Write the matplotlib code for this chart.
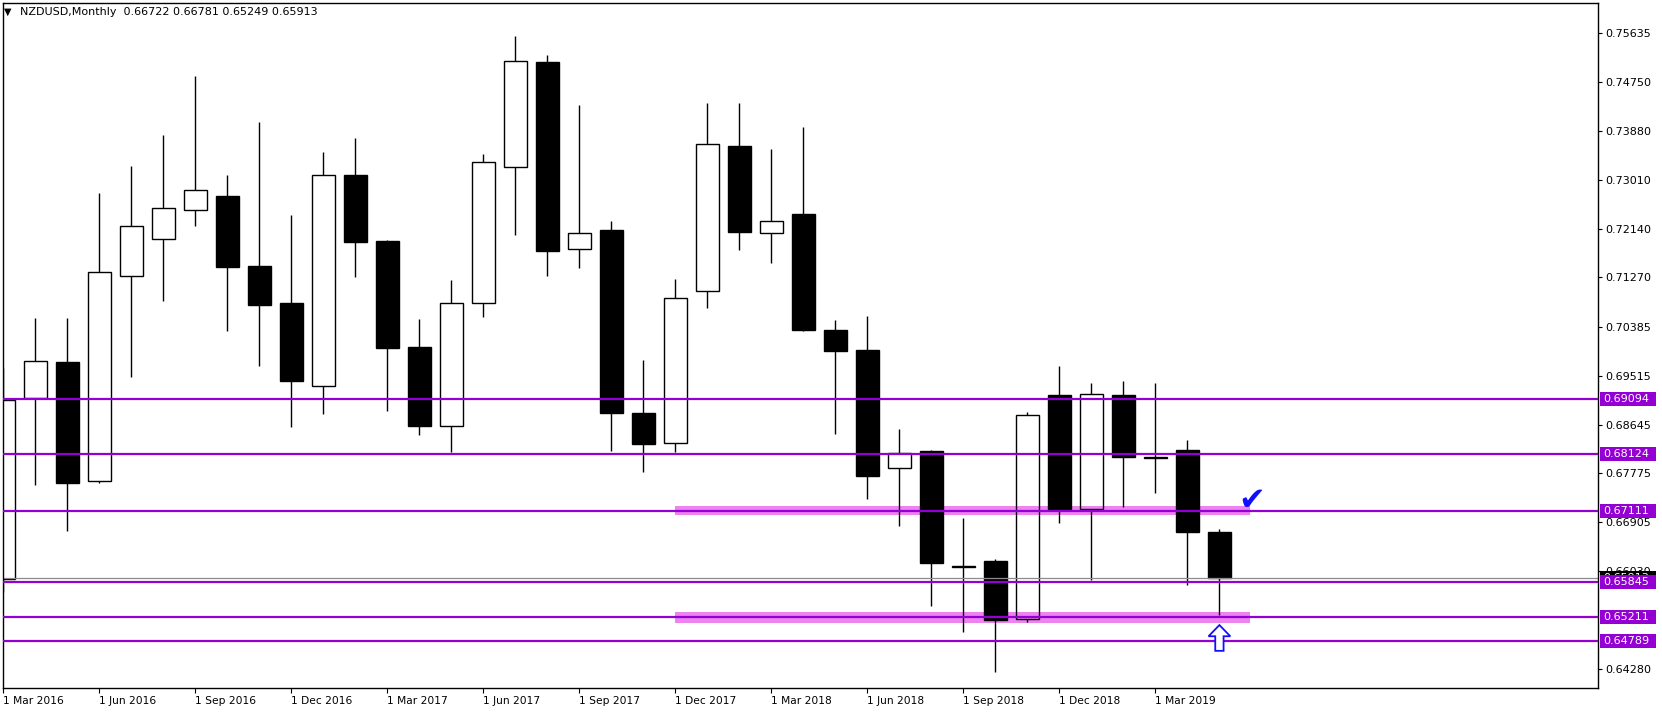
import matplotlib
matplotlib.use('Agg')
import matplotlib.pyplot as plt
from matplotlib.patches import Rectangle, Polygon
import matplotlib.transforms as mtransforms

# monthly NZDUSD candles, Mar 2016 .. May 2019
months = ['Mar 2016', 'Apr 2016', 'May 2016', 'Jun 2016', 'Jul 2016', 'Aug 2016', 'Sep 2016',
          'Oct 2016', 'Nov 2016', 'Dec 2016', 'Jan 2017', 'Feb 2017', 'Mar 2017', 'Apr 2017',
          'May 2017', 'Jun 2017', 'Jul 2017', 'Aug 2017', 'Sep 2017', 'Oct 2017', 'Nov 2017',
          'Dec 2017', 'Jan 2018', 'Feb 2018', 'Mar 2018', 'Apr 2018', 'May 2018', 'Jun 2018',
          'Jul 2018', 'Aug 2018', 'Sep 2018', 'Oct 2018', 'Nov 2018', 'Dec 2018', 'Jan 2019',
          'Feb 2019', 'Mar 2019', 'Apr 2019', 'May 2019']
opens = [0.65885, 0.69114, 0.69762, 0.67634, 0.71290, 0.71950, 0.72468, 0.72723, 0.71474,
         0.70814, 0.69328, 0.73092, 0.71920, 0.70029, 0.68615, 0.70809, 0.73235, 0.75113,
         0.71772, 0.72111, 0.68852, 0.68311, 0.71023, 0.73615, 0.72066, 0.72409, 0.70334,
         0.69977, 0.67862, 0.68171, 0.66100, 0.66219, 0.65185, 0.69168, 0.67139, 0.69168,
         0.68072, 0.68192, 0.66722]
highs = [0.69660, 0.70547, 0.70547, 0.72776, 0.73258, 0.73811, 0.74863, 0.73097, 0.74043,
         0.72384, 0.73508, 0.73757, 0.71938, 0.70529, 0.71224, 0.73472, 0.75580, 0.75238,
         0.74346, 0.72272, 0.69797, 0.71242, 0.74382, 0.74382, 0.73559, 0.73950, 0.70513,
         0.70588, 0.68568, 0.68200, 0.66972, 0.66247, 0.68870, 0.69690, 0.69387, 0.69423,
         0.69387, 0.68370, 0.66781]
lows = [0.65660, 0.67568, 0.66752, 0.67598, 0.69499, 0.70855, 0.72193, 0.70320, 0.69696,
        0.68608, 0.68839, 0.71283, 0.68893, 0.68465, 0.68151, 0.70570, 0.72022, 0.71301,
        0.71444, 0.68179, 0.67794, 0.68151, 0.70725, 0.71760, 0.71519, 0.70307, 0.68479,
        0.67321, 0.66834, 0.65404, 0.64952, 0.64240, 0.65120, 0.66895, 0.65873, 0.67180,
        0.67430, 0.65789, 0.65249]
closes = [0.69084, 0.69774, 0.67609, 0.71362, 0.72182, 0.72503, 0.72824, 0.71462, 0.70784,
          0.69428, 0.73092, 0.71908, 0.70017, 0.68625, 0.70809, 0.73324, 0.75126, 0.71747,
          0.72057, 0.68847, 0.68304, 0.70898, 0.73645, 0.72081, 0.72279, 0.70341, 0.69965,
          0.67732, 0.68144, 0.66171, 0.66115, 0.65158, 0.68811, 0.67139, 0.69185, 0.68072,
          0.68055, 0.66722, 0.65913]

levels = [0.69094, 0.68124, 0.67111, 0.65845, 0.65211, 0.64789]
zones = [(0.67038, 0.67193), (0.65111, 0.65302)]
zone_from = 'Dec 2017'
zone_to = 38.97
price_ticks = [0.75635, 0.74750, 0.73880, 0.73010, 0.72140, 0.71270, 0.70385, 0.69515,
               0.68645, 0.67775, 0.66905, 0.66030, 0.64280]
bid = 0.65913

W, H = 1662, 712
fig = plt.figure(figsize=(W / 100, H / 100), dpi=100)
ax = fig.add_axes([3 / W, 24 / H, 1595 / W, 685 / H])
ax.set_xlim(-0.01, 49.83)
ax.set_ylim(0.63946, 0.76166)
ppu = 685 / (0.76166 - 0.63946)  # pixels per price unit

bw = 0.36
for i in range(len(months)):
    o, h, l, c = opens[i], highs[i], lows[i], closes[i]
    top, bot = max(o, c), min(o, c)
    bull = c >= o
    ax.plot([i, i], [top, h], color='black', lw=1.0, zorder=2, solid_capstyle='butt')
    ax.plot([i, i], [l, bot], color='black', lw=1.0, zorder=2, solid_capstyle='butt')
    ax.add_patch(Rectangle((i - bw, bot), 2 * bw, top - bot,
                           facecolor='none' if bull else 'black',
                           edgecolor='black', lw=1.0, zorder=2))

# highlighted zones
z0 = months.index(zone_from)
for lo, hi in zones:
    ax.add_patch(Rectangle((z0, lo), zone_to - z0, hi - lo, facecolor='#ee82ee',
                           edgecolor='none', zorder=1))

# horizontal levels
for lv in levels:
    ax.axhline(lv, color='#9400d3', lw=1.6, zorder=3)
ax.axhline(bid, color='#8c8c8c', lw=0.9, zorder=2.5)

# axis styling
for s in ax.spines.values():
    s.set_linewidth(1.0)
    s.set_color('black')
ax.yaxis.tick_right()
ax.set_yticks(price_ticks)
ax.set_yticklabels(['%.5f' % p for p in price_ticks])
ax.tick_params(axis='y', direction='out', length=3, width=0.8, pad=2, labelsize=8)
xt = list(range(0, len(months), 3))
ax.set_xticks(xt)
ax.set_xticklabels(['1 ' + months[i] for i in xt], ha='left')
ax.tick_params(axis='x', direction='out', length=3.5, width=0.8, pad=2, labelsize=7.7)

# price labels on the right axis
lab = mtransforms.blended_transform_factory(ax.transAxes, ax.transData)
bx0 = 2 / 1595 + 1
bwid = 56 / 1595
bh = 14 / ppu


def price_box(p, fc, z):
    ax.add_patch(Rectangle((bx0, p - bh / 2), bwid, bh, transform=lab, facecolor=fc,
                           edgecolor='none', clip_on=False, zorder=z))
    ax.text(bx0 + 3 / 1595, p, '%.5f' % p, transform=lab, color='white', fontsize=8,
            va='center', ha='left', clip_on=False, zorder=z + 0.1)


price_box(bid, 'black', 5)
for lv in levels:
    price_box(lv, '#9400d3', 6)

# header
fig.text(4 / W, 1 - 12 / H, '\u25bc', fontsize=7, va='center', ha='left')
fig.text(20 / W, 1 - 12 / H, 'NZDUSD,Monthly  %.5f %.5f %.5f %.5f'
         % (opens[-1], highs[-1], lows[-1], closes[-1]), fontsize=8, va='center', ha='left')

# check mark and arrow
ax.text(zone_to + 0.05, levels[2] + 0.0017, '\u2714', color='#1010ff', fontsize=23,
        ha='center', va='center', zorder=7)
n = len(months) - 1
t = lows[-1] - 0.0018
aw, sw = 0.34, 0.13
hh, ah = 0.0020, 0.0046
arrow = [(n, t), (n + aw, t - hh), (n + sw, t - hh), (n + sw, t - ah), (n - sw, t - ah),
         (n - sw, t - hh), (n - aw, t - hh)]
ax.add_patch(Polygon(arrow, closed=True, facecolor='white', edgecolor='#1010ff', lw=1.3,
                     zorder=7))

fig.savefig('out.png', dpi=100, facecolor='white')
